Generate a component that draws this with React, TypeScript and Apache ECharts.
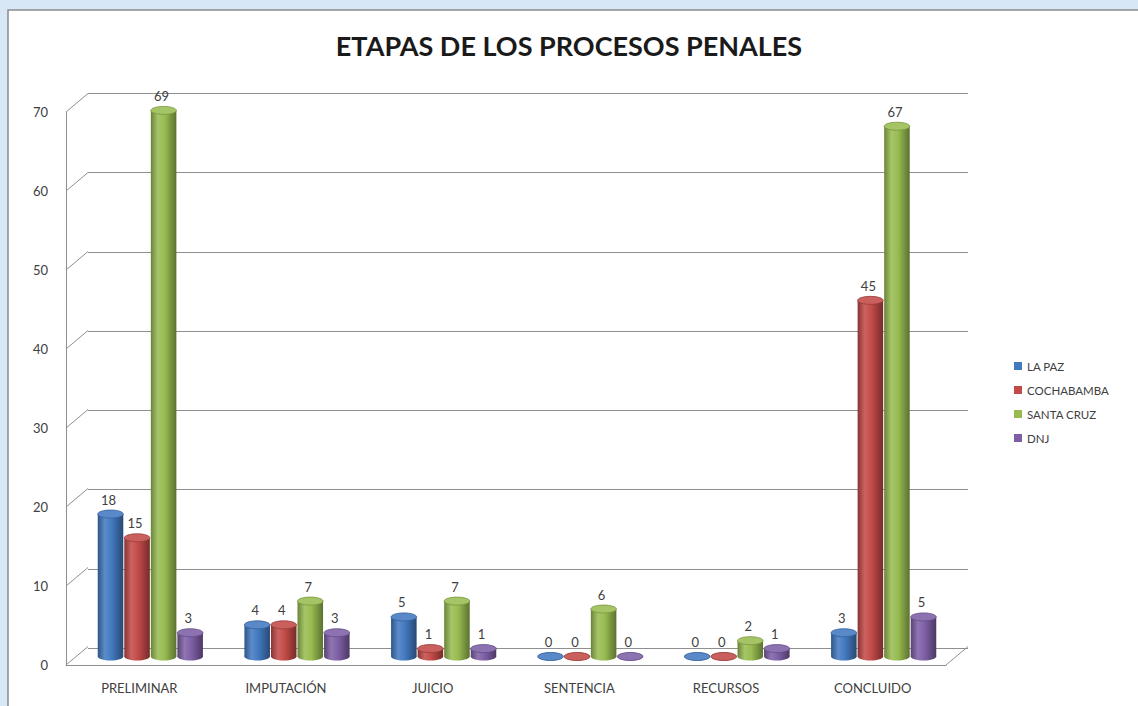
import React, { useEffect, useRef } from "react";
import * as echarts from "echarts";

const categories = ["PRELIMINAR", "IMPUTACIÓN", "JUICIO", "SENTENCIA", "RECURSOS", "CONCLUIDO"];
const seriesNames = ["LA PAZ", "COCHABAMBA", "SANTA CRUZ", "DNJ"];
const laPaz = [18, 4, 5, 0, 0, 3];
const cochabamba = [15, 4, 1, 0, 0, 45];
const santaCruz = [69, 7, 7, 6, 2, 67];
const dnj = [3, 3, 1, 0, 1, 5];
const seriesValues = [laPaz, cochabamba, santaCruz, dnj];
const yTicks = [0, 10, 20, 30, 40, 50, 60, 70];
const titleText = "ETAPAS DE LOS PROCESOS PENALES";

const COLORS = ["#4279c0", "#c24a47", "#98bc50", "#7e5fa6"];
const FONT = "Lato, 'Open Sans', sans-serif";
const GRID_LINE = "#8f8f8f";
const DEPTH_X = 22;
const DEPTH_Y = 18.5;

function mix(hex: string, target: string, t: number): string {
  const p = (h: string) => [1, 3, 5].map((i) => parseInt(h.slice(i, i + 2), 16));
  const a = p(hex);
  const b = p(target);
  const c = a.map((v, i) => Math.round(v + (b[i] - v) * t));
  return `rgb(${c[0]},${c[1]},${c[2]})`;
}

const makeCylinder = (s: number) => (params: any, api: any) => {
  const ci = api.value(0);
  const v = api.value(1);
  const top = api.coord([ci, v]);
  const base = api.coord([ci, 0]);
  const band = api.size([1, 0])[0];
  const w = band * 0.181;
  const cx = top[0] + (s - 1.5) * w;
  const rx = w / 2 - 0.5;
  const ry = 4;
  const c = COLORS[s];
  const grad = () =>
    new echarts.graphic.LinearGradient(0, 0, 1, 0, [
      { offset: 0, color: mix(c, "#000000", 0.3) },
      { offset: 0.28, color: mix(c, "#ffffff", 0.14) },
      { offset: 0.55, color: c },
      { offset: 1, color: mix(c, "#000000", 0.4) },
    ]);
  const h = base[1] - top[1];
  return {
    type: "group",
    children: [
      { type: "ellipse", shape: { cx, cy: base[1], rx, ry }, style: { fill: grad() } },
      { type: "rect", shape: { x: cx - rx, y: top[1], width: 2 * rx, height: h }, style: { fill: grad() } },
      {
        type: "ellipse",
        shape: { cx, cy: top[1], rx, ry },
        style: { fill: mix(c, "#ffffff", 0.12), stroke: mix(c, "#000000", 0.2), lineWidth: 0.8 },
      },
      {
        type: "text",
        x: cx - 2,
        y: top[1] - 8,
        style: {
          text: String(v),
          fill: "#404040",
          font: `13px ${FONT}`,
          align: "center",
          verticalAlign: "bottom",
          textAlign: "center",
          textVerticalAlign: "bottom",
        },
      },
    ],
  };
};

const frameRender = (params: any, api: any) => {
  const cs = params.coordSys;
  const v = api.value(1);
  const y = api.coord([0, v])[1];
  const style = { stroke: GRID_LINE, lineWidth: 1 };
  const children: any[] = [
    { type: "line", shape: { x1: cs.x, y1: y, x2: cs.x + DEPTH_X, y2: y - DEPTH_Y }, style },
  ];
  if (v === 0) {
    children.push({
      type: "line",
      shape: { x1: cs.x + cs.width, y1: y, x2: cs.x + cs.width + DEPTH_X, y2: y - DEPTH_Y },
      style,
    });
  }
  return { type: "group", children };
};

export default function App() {
  const ref = useRef<HTMLDivElement>(null);
  useEffect(() => {
    if (!ref.current) return;
    const chart = echarts.init(ref.current, null, { renderer: "svg" });
    const valueAxisBase = { type: "value", min: 0, max: 70, interval: 10 };
    chart.setOption({
      animation: false,
      color: COLORS,
      backgroundColor: "#d8e7f6",
      graphic: [
        {
          type: "rect",
          z: -10,
          shape: { x: 8, y: 10, width: 1140, height: 710 },
          style: { fill: "#ffffff", stroke: "#8a8a8a", lineWidth: 1.5 },
        },
      ],
      title: {
        text: titleText,
        left: "center",
        top: 27,
        textStyle: { fontFamily: FONT, fontSize: 27, fontWeight: "bold", color: "#1a1a1a" },
      },
      legend: {
        orient: "vertical",
        left: 1009,
        top: 354,
        itemWidth: 8,
        itemHeight: 8,
        itemGap: 10,
        icon: "rect",
        data: seriesNames,
        textStyle: { color: "#404040", fontSize: 11.5, fontFamily: FONT, lineHeight: 14 },
      },
      grid: [
        { left: 66, right: 192, top: 112, bottom: 41 },
        { left: 77, right: 181, top: 102.5, bottom: 49.5 },
        { left: 88, right: 170, top: 93.5, bottom: 58 },
      ],
      xAxis: [
        {
          gridIndex: 0,
          type: "category",
          data: categories,
          axisLine: { lineStyle: { color: GRID_LINE } },
          axisTick: { show: false },
          axisLabel: { color: "#404040", fontSize: 13, fontFamily: FONT, margin: 16 },
        },
        { gridIndex: 1, type: "category", data: categories, show: false },
        { gridIndex: 2, type: "category", data: categories, show: false },
      ],
      yAxis: [
        {
          gridIndex: 0,
          ...valueAxisBase,
          axisLine: { show: true, lineStyle: { color: GRID_LINE } },
          axisTick: { show: false },
          splitLine: { show: false },
          axisLabel: { color: "#404040", fontSize: 13, fontFamily: FONT, margin: 18 },
        },
        { gridIndex: 1, ...valueAxisBase, show: false },
        {
          gridIndex: 2,
          ...valueAxisBase,
          axisLine: { show: false },
          axisTick: { show: false },
          axisLabel: { show: false },
          splitLine: { show: true, lineStyle: { color: GRID_LINE, width: 1 } },
        },
      ],
      series: [
        {
          type: "custom",
          name: "frame",
          xAxisIndex: 0,
          yAxisIndex: 0,
          z: 1,
          silent: true,
          renderItem: frameRender,
          data: yTicks.map((v) => [0, v]),
        },
        ...seriesNames.map((name, s) => ({
          type: "custom",
          name,
          xAxisIndex: 1,
          yAxisIndex: 1,
          z: 3,
          clip: false,
          itemStyle: { color: COLORS[s] },
          renderItem: makeCylinder(s),
          data: seriesValues[s].map((v, i) => [i, v]),
        })),
      ],
    });
    return () => chart.dispose();
  }, []);
  return (
    <div style={{ position: "absolute", left: 0, top: 0, width: 1138, height: 706 }}>
      <div ref={ref} style={{ width: 1138, height: 706 }} />
    </div>
  );
}
